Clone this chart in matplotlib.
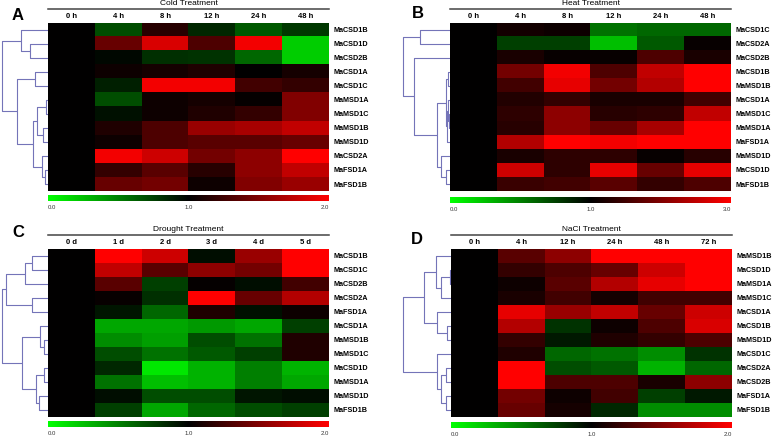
import matplotlib
matplotlib.use('Agg')
import matplotlib.pyplot as plt
import numpy as np
from matplotlib.colors import LinearSegmentedColormap, TwoSlopeNorm

plt.rcParams['font.family'] = ['Liberation Sans', 'DejaVu Sans']

# ---- data ----
cold_times = ['0 h', '4 h', '8 h', '12 h', '24 h', '48 h']
cold_genes = ['MaCSD1B', 'MaCSD1D', 'MaCSD2B', 'MaCSD1A', 'MaCSD1C', 'MaMSD1A',
              'MaMSD1C', 'MaMSD1B', 'MaMSD1D', 'MaCSD2A', 'MaFSD1A', 'MaFSD1B']
cold_values = [
    [1, 0.70, 1.15, 0.85, 0.65, 0.78],
    [1, 1.40, 1.85, 1.30, 1.95, 0.20],
    [1, 0.97, 0.82, 0.80, 0.60, 0.20],
    [1, 1.05, 1.08, 1.12, 1.00, 1.08],
    [1, 0.88, 1.95, 1.95, 1.25, 1.20],
    [1, 0.70, 1.05, 1.08, 1.02, 1.50],
    [1, 0.93, 1.05, 1.12, 1.20, 1.50],
    [1, 1.12, 1.30, 1.60, 1.65, 1.75],
    [1, 1.05, 1.30, 1.35, 1.35, 1.40],
    [1, 1.95, 1.80, 1.45, 1.55, 2.00],
    [1, 1.20, 1.35, 1.15, 1.55, 1.75],
    [1, 1.40, 1.45, 1.05, 1.50, 1.60],
]
# tree nodes: (left, right, height), leaves are row indices
cold_tree = ((0, (1, 2, 18), 27),
             ((3, 4, 13), (((5, 6, 2), (7, 8, 5), 11), (9, (10, 11, 3), 6), 15), 31), 46)

heat_times = ['0 h', '4 h', '8 h', '12 h', '24 h', '48 h']
heat_genes = ['MaCSD1C', 'MaCSD2A', 'MaCSD2B', 'MaCSD1B', 'MaMSD1B', 'MaCSD1A',
              'MaMSD1C', 'MaMSD1A', 'MaFSD1A', 'MaMSD1D', 'MaCSD1D', 'MaFSD1B']
heat_values = [
    [1, 1.15, 1.10, 0.55, 0.60, 0.60],
    [1, 0.75, 0.75, 0.25, 0.65, 1.05],
    [1, 1.20, 1.05, 1.05, 1.60, 1.20],
    [1, 1.90, 2.90, 1.60, 2.50, 3.00],
    [1, 1.50, 2.80, 1.90, 2.40, 3.00],
    [1, 1.25, 1.40, 1.20, 1.20, 1.50],
    [1, 1.35, 2.10, 1.30, 1.35, 2.50],
    [1, 1.30, 2.10, 1.80, 2.30, 3.00],
    [1, 2.40, 3.00, 2.90, 3.00, 3.00],
    [1, 1.20, 1.35, 1.35, 1.05, 1.30],
    [1, 2.60, 1.35, 2.80, 1.80, 2.80],
    [1, 1.45, 1.50, 1.70, 1.40, 1.60],
]
heat_tree = ((0, 1, 30),
             (2, (((3, 4, 1.5), ((5, (6, 7, 1), 2), 8, 3), 4),
                  (9, (10, 11, 4), 9), 13), 36), 47)

drought_times = ['0 d', '1 d', '2 d', '3 d', '4 d', '5 d']
drought_genes = ['MaCSD1B', 'MaCSD1C', 'MaCSD2B', 'MaCSD2A', 'MaFSD1A', 'MaCSD1A',
                 'MaMSD1B', 'MaMSD1C', 'MaCSD1D', 'MaMSD1A', 'MaMSD1D', 'MaFSD1B']
drought_values = [
    [1, 2.00, 1.80, 0.95, 1.60, 2.00],
    [1, 1.75, 1.35, 1.55, 1.45, 2.00],
    [1, 1.35, 0.75, 1.02, 0.95, 1.25],
    [1, 1.03, 0.82, 2.00, 1.40, 1.70],
    [1, 0.92, 0.60, 1.12, 0.93, 1.05],
    [1, 0.35, 0.35, 0.40, 0.35, 0.75],
    [1, 0.45, 0.38, 0.70, 0.55, 1.12],
    [1, 0.70, 0.55, 0.65, 0.75, 1.12],
    [1, 0.85, 0.10, 0.30, 0.50, 0.30],
    [1, 0.55, 0.25, 0.30, 0.50, 0.35],
    [1, 0.95, 0.70, 0.70, 0.92, 0.95],
    [1, 0.75, 0.35, 0.60, 0.70, 0.75],
]
drought_tree = ((((0, 1, 16), 2, 23), (3, 4, 16), 42),
                ((5, (6, 7, 4), 8), ((8, 9, 4), (10, 11, 9), 12), 26), 46)

nacl_times = ['0 h', '4 h', '12 h', '24 h', '48 h', '72 h']
nacl_genes = ['MaMSD1B', 'MaCSD1D', 'MaMSD1A', 'MaMSD1C', 'MaCSD1A', 'MaCSD1B',
              'MaMSD1D', 'MaCSD1C', 'MaCSD2A', 'MaCSD2B', 'MaFSD1A', 'MaFSD1B']
nacl_values = [
    [1, 1.35, 1.55, 2.00, 2.00, 2.00],
    [1, 1.20, 1.30, 1.40, 1.80, 2.00],
    [1, 1.05, 1.35, 1.70, 1.90, 2.00],
    [1, 1.10, 1.25, 1.08, 1.25, 1.25],
    [1, 1.90, 1.60, 1.75, 1.40, 1.80],
    [1, 1.70, 0.80, 1.05, 1.30, 1.85],
    [1, 1.20, 0.90, 1.12, 1.20, 1.30],
    [1, 1.12, 0.60, 0.55, 0.45, 0.80],
    [1, 2.00, 0.70, 0.65, 0.30, 0.60],
    [1, 2.00, 1.30, 1.30, 1.10, 1.55],
    [1, 1.45, 1.05, 1.25, 0.75, 0.90],
    [1, 1.40, 1.08, 0.85, 0.45, 0.45],
]
nacl_tree = (((0, ((1, 2, 1), 3, 10), 15), (4, (5, 6, 4), 14), 27),
             (7, ((8, 9, 5), (10, 11, 5), 10), 14), 48)

cmap = LinearSegmentedColormap.from_list('gbr', ['#00ff00', '#000000', '#ff0000'])
tree_color = '#7474b8'

W, H = 778, 437
fig = plt.figure(figsize=(W / 100, H / 100), dpi=100)


def box(x, y, w, h):
    return [x / W, 1 - (y + h) / H, w / W, h / H]


def draw_tree(ax, node):
    if isinstance(node, int):
        return node, 0
    left, right, h = node
    y1, h1 = draw_tree(ax, left)
    y2, h2 = draw_tree(ax, right)
    ax.plot([h1, h, h, h2], [y1, y1, y2, y2], color=tree_color, lw=0.8,
            solid_capstyle='butt')
    return (y1 + y2) / 2, h


panels = [
    ('A', 'Cold Treatment', cold_times, cold_genes, cold_values, cold_tree, 2.0,
     0, 48, 23, 195, (18, 15)),
    ('B', 'Heat Treatment', heat_times, heat_genes, heat_values, heat_tree, 3.0,
     400, 450, 23, 197, (418, 14)),
    ('C', 'Drought Treatment', drought_times, drought_genes, drought_values,
     drought_tree, 2.0, 0, 48, 249, 421, (18, 233)),
    ('D', 'NaCl Treatment', nacl_times, nacl_genes, nacl_values, nacl_tree, 2.0,
     400, 451, 249, 422, (417, 240)),
]

for letter, title, times, genes, vals, tree, vmax, dx, hx, hy, cy, lpos in panels:
    hw, hh = 281, 168
    n = len(genes)

    # heatmap
    ax = fig.add_axes(box(hx, hy, hw, hh))
    norm = TwoSlopeNorm(vmin=0, vcenter=1, vmax=vmax)
    ax.imshow(np.array(vals), cmap=cmap, norm=norm, aspect='auto',
              interpolation='nearest')
    ax.set_xlim(-0.5, len(times) - 0.5)
    ax.set_ylim(n - 0.5, -0.5)
    ax.xaxis.tick_top()
    ax.set_xticks(range(len(times)))
    ax.set_xticklabels(times, fontsize=5.5, fontweight='bold')
    ax.yaxis.tick_right()
    ax.set_yticks(range(n))
    ax.set_yticklabels(genes, fontsize=5.2, fontweight='bold')
    ax.tick_params(axis='x', length=0, pad=2)
    ax.tick_params(axis='y', length=0, pad=3)
    for s in ax.spines.values():
        s.set_visible(False)
    ax.plot([0, 1], [1.083, 1.083], transform=ax.transAxes, clip_on=False,
            color='#444444', lw=1.1)
    ax.text(0.5, 1.093, title, transform=ax.transAxes, ha='center', va='bottom',
            fontsize=6)

    # dendrogram
    dax = fig.add_axes(box(dx, hy, hx - dx, hh))
    draw_tree(dax, tree)
    dax.set_xlim(hx - dx, 0)
    dax.set_ylim(n - 0.5, -0.5)
    dax.axis('off')

    # colour bar
    cax = fig.add_axes(box(hx, cy, hw, 6))
    cax.imshow(np.linspace(0, 1, 256)[None, :], cmap=cmap, aspect='auto')
    cax.axis('off')
    ticks = ['0.0', '1.0', '%.1f' % vmax]
    for pos, lab, ha in zip([0, 0.5, 1], ticks, ['left', 'center', 'right']):
        cax.text(pos, -0.6, lab, transform=cax.transAxes, ha=ha, va='top',
                 fontsize=4.3, color='#333333')

    fig.text(lpos[0] / W, 1 - lpos[1] / H, letter, ha='center', va='center',
             fontsize=12, fontweight='bold')

fig.savefig('out.png', dpi=100)
